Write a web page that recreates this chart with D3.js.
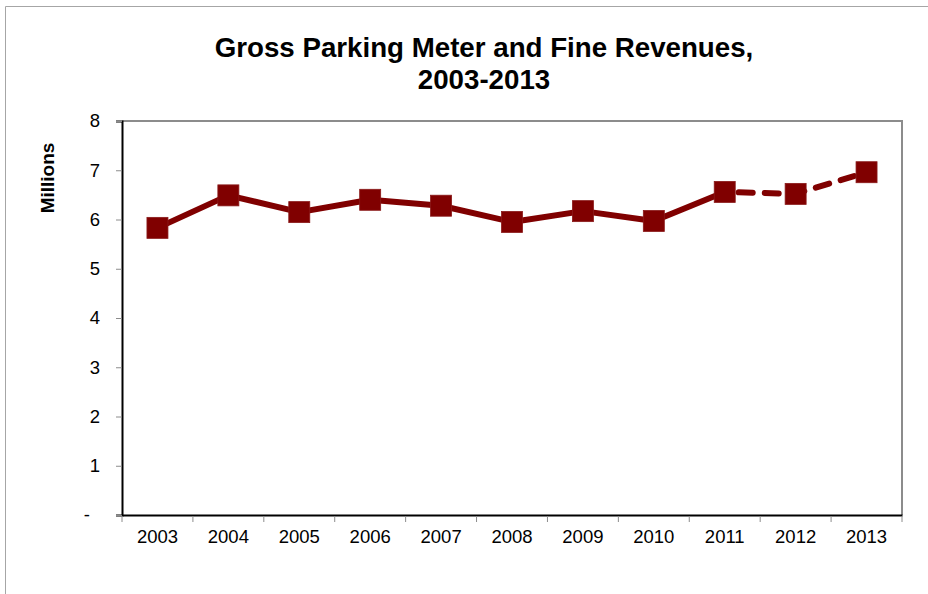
<!DOCTYPE html>
<html>
<head>
<meta charset="utf-8">
<script src="https://cdn.jsdelivr.net/npm/d3@7"></script>
<style>
  html, body { margin: 0; padding: 0; background: #fff; }
  svg { display: block; font-family: "Liberation Sans", Arial, sans-serif; }
</style>
</head>
<body>
<svg id="chart" width="928" height="594"></svg>
<script>
const years = ["2003","2004","2005","2006","2007","2008","2009","2010","2011","2012","2013"];
const revenues = [5.83, 6.49, 6.15, 6.40, 6.28, 5.95, 6.17, 5.97, 6.56, 6.52, 6.96];
const yTicks = [0, 1, 2, 3, 4, 5, 6, 7, 8];
const solidUntil = "2011";
const titleLines = ["Gross Parking Meter and Fine Revenues,", "2003-2013"];
const yAxisTitle = "Millions";

const svg = d3.select("#chart");
const W = 928, H = 594;
const m = { left: 122, right: 26, top: 121, bottom: 79 };
const x = d3.scaleBand().domain(years).range([m.left, W - m.right]);
const y = d3.scaleLinear().domain([0, 8]).range([H - m.bottom, m.top]);
const color = "#800000";

// outer frame
svg.append("path")
  .attr("d", `M5.5,${H} V6.5 H${W}`)
  .attr("fill", "none").attr("stroke", "#a6a6a6").attr("stroke-width", 1);

// title
const t = svg.append("text").attr("text-anchor", "middle")
  .attr("font-weight", "bold").attr("font-size", 27.7).attr("fill", "#000");
titleLines.forEach((l, i) => t.append("tspan").attr("x", 484).attr("y", 57 + i * 32).text(l));

// y axis title
svg.append("text")
  .attr("transform", `translate(54,178) rotate(-90)`)
  .attr("text-anchor", "middle").attr("font-weight", "bold").attr("font-size", 19)
  .text(yAxisTitle);

// plot border: top & right gray
svg.append("path")
  .attr("d", `M${m.left},${y(8)} H${W - m.right} V${y(0)}`)
  .attr("fill", "none").attr("stroke", "#8c8c8c").attr("stroke-width", 2);

// y axis
const yAxis = d3.axisLeft(y).tickValues(yTicks).tickSize(6).tickPadding(16)
  .tickFormat(d => d === 0 ? "-" : d3.format("d")(d));
const gy = svg.append("g").attr("transform", `translate(${m.left},0)`).call(yAxis);
gy.select(".domain").attr("stroke", "#000").attr("stroke-width", 2);
gy.selectAll(".tick line").attr("stroke", "#8c8c8c");
gy.selectAll(".tick text").attr("font-size", 18.5).attr("font-family", "Liberation Sans, Arial, sans-serif").attr("fill", "#000");
gy.selectAll(".tick text").filter(d => d === 0).attr("dx", -10);

// x axis
const xAxis = d3.axisBottom(x).tickSize(0).tickPadding(15);
const gx = svg.append("g").attr("transform", `translate(0,${y(0)})`).call(xAxis);
gx.select(".domain").attr("stroke", "#000").attr("stroke-width", 2);
gx.selectAll(".tick text").attr("font-size", 18.5).attr("font-family", "Liberation Sans, Arial, sans-serif").attr("fill", "#000");
// boundary ticks
const bounds = years.map(d => x(d)).concat([x(years[years.length - 1]) + x.bandwidth()]);
svg.append("g").selectAll("line").data(bounds).join("line")
  .attr("x1", d => d).attr("x2", d => d)
  .attr("y1", y(0) + 1).attr("y2", y(0) + 7)
  .attr("stroke", "#8c8c8c").attr("stroke-width", 1);

const pts = years.map((yr, i) => ({ yr, v: revenues[i] }));
const cx = d => x(d.yr) + x.bandwidth() / 2;
const line = d3.line().x(cx).y(d => y(d.v));
const cut = years.indexOf(solidUntil);

svg.append("path").datum(pts.slice(0, cut + 1))
  .attr("d", line).attr("fill", "none").attr("stroke", color)
  .attr("stroke-width", 6).attr("stroke-linejoin", "round");
svg.append("path").datum(pts.slice(cut))
  .attr("d", line).attr("fill", "none").attr("stroke", color)
  .attr("stroke-width", 6).attr("stroke-linecap", "round")
  .attr("stroke-dasharray", "14,12").attr("stroke-dashoffset", -14);

const s = 21;
svg.append("g").selectAll("rect").data(pts).join("rect")
  .attr("x", d => cx(d) - s / 2).attr("y", d => y(d.v) - s / 2)
  .attr("width", s).attr("height", s)
  .attr("fill", color).attr("stroke", "#8a1a1a").attr("stroke-width", 0.8);
</script>
</body>
</html>
